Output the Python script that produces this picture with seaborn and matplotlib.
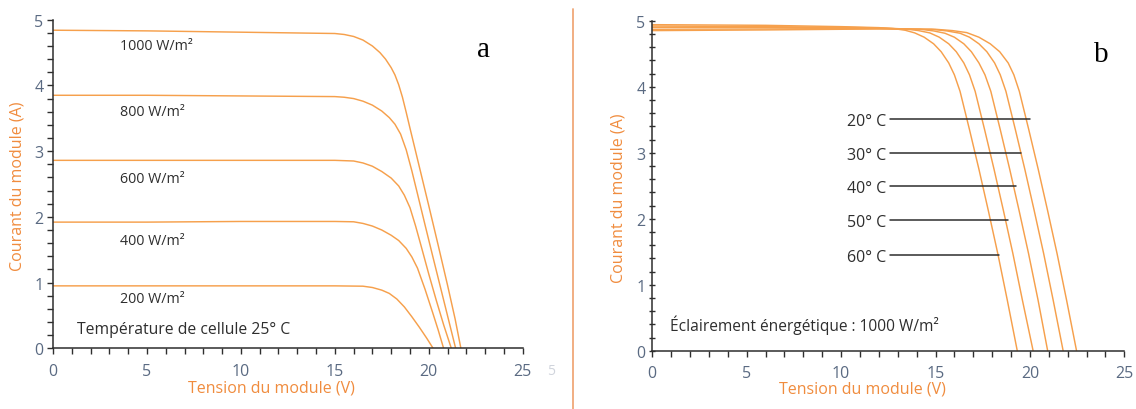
import numpy as np
import pandas as pd
import matplotlib
matplotlib.use("Agg")
import matplotlib.pyplot as plt
from matplotlib.lines import Line2D
from matplotlib.ticker import MultipleLocator
import seaborn as sns

# ---------------- Data: panel a (irradiance, cell temperature 25 °C) ----------------
irr_labels = ["1000 W/m²", "800 W/m²", "600 W/m²", "400 W/m²", "200 W/m²"]
v_1000 = [0, 5, 10, 15, 15.5, 16, 16.5, 17, 17.4, 17.7, 18.0, 18.2, 18.4, 18.6, 18.8, 19.0,
          19.5, 20, 20.5, 21, 21.4, 21.71]
i_1000 = [4.84, 4.83, 4.81, 4.79, 4.775, 4.745, 4.69, 4.60, 4.50, 4.40, 4.27, 4.16, 4.01, 3.82,
          3.59, 3.35, 2.76, 2.17, 1.57, 0.96, 0.45, 0]
v_800 = [0, 5, 10, 15, 15.5, 16, 16.5, 17, 17.5, 17.9, 18.2, 18.5, 18.8, 19.1, 19.4, 19.8,
         20.23, 20.7, 21.1, 21.43]
i_800 = [3.85, 3.85, 3.84, 3.83, 3.82, 3.80, 3.76, 3.70, 3.61, 3.51, 3.41, 3.26, 3.02, 2.70,
         2.35, 1.88, 1.38, 0.84, 0.38, 0]
v_600 = [0, 5, 10, 15, 16, 16.5, 17, 17.5, 18, 18.4, 18.7, 19.0, 19.3, 19.6, 20.0, 20.4,
         20.8, 21.2]
i_600 = [2.86, 2.86, 2.86, 2.86, 2.85, 2.82, 2.77, 2.69, 2.59, 2.47, 2.33, 2.14, 1.86, 1.55,
         1.13, 0.73, 0.35, 0]
v_400 = [0, 5, 10, 15, 16, 16.5, 17, 17.5, 18, 18.4, 18.8, 19.1, 19.4, 19.8, 20.2, 20.5, 20.79]
i_400 = [1.92, 1.92, 1.93, 1.93, 1.925, 1.90, 1.86, 1.80, 1.72, 1.64, 1.52, 1.39, 1.22, 0.90,
         0.55, 0.28, 0]
v_200 = [0, 5, 10, 15, 16.5, 17, 17.5, 17.9, 18.3, 18.7, 19.1, 19.5, 19.9, 20.23]
i_200 = [0.95, 0.95, 0.95, 0.95, 0.945, 0.925, 0.885, 0.835, 0.75, 0.63, 0.48, 0.32, 0.15, 0]
irr_label_y = [4.6, 3.61, 2.59, 1.64, 0.76]

# ---------------- Data: panel b (temperature, irradiance 1000 W/m²) ----------------
temp_labels = ["20° C", "30° C", "40° C", "50° C", "60° C"]
v_20 = [0, 6, 10, 12, 15.0, 15.9, 16.65, 17.3, 17.9, 18.4, 18.85, 19.15, 19.44, 19.94, 20.44,
        20.94, 21.44, 21.94, 22.47]
i_20 = [4.85, 4.86, 4.87, 4.875, 4.87, 4.85, 4.82, 4.75, 4.65, 4.53, 4.36, 4.18, 3.93, 3.35,
        2.75, 2.12, 1.47, 0.77, 0]
v_30 = [0, 6, 10, 12, 14.8, 15.6, 16.3, 16.8, 17.3, 17.72, 18.13, 18.43, 18.73, 19.23, 19.73,
        20.23, 20.73, 21.23, 21.76]
i_30 = [4.87, 4.875, 4.88, 4.88, 4.87, 4.845, 4.81, 4.75, 4.65, 4.53, 4.36, 4.18, 3.93, 3.35,
        2.75, 2.12, 1.47, 0.77, 0]
v_40 = [0, 6, 10, 12, 14.2, 14.9, 15.5, 16.0, 16.5, 16.9, 17.3, 17.62, 17.93, 18.43, 18.93,
        19.43, 19.93, 20.43, 20.94]
i_40 = [4.90, 4.90, 4.89, 4.885, 4.87, 4.845, 4.81, 4.75, 4.65, 4.53, 4.36, 4.18, 3.93, 3.35,
        2.75, 2.12, 1.47, 0.77, 0]
v_50 = [0, 6, 10, 12, 13.4, 14.1, 14.7, 15.2, 15.7, 16.1, 16.5, 16.8, 17.1, 17.6, 18.1, 18.6,
        19.1, 19.6, 20.17]
i_50 = [4.92, 4.91, 4.90, 4.89, 4.875, 4.85, 4.815, 4.75, 4.65, 4.53, 4.36, 4.18, 3.93, 3.35,
        2.75, 2.12, 1.47, 0.77, 0]
v_60 = [0, 6, 10, 12, 12.8, 13.4, 13.9, 14.4, 14.9, 15.3, 15.7, 16.0, 16.3, 16.8, 17.3, 17.8,
        18.3, 18.8, 19.33]
i_60 = [4.94, 4.93, 4.91, 4.895, 4.88, 4.855, 4.815, 4.75, 4.65, 4.53, 4.36, 4.18, 3.93, 3.35,
        2.75, 2.12, 1.47, 0.77, 0]
temp_label_y = [3.48, 2.97, 2.47, 1.95, 1.42]
temp_line_end = [20.0, 19.52, 19.26, 18.84, 18.36]

x_ticks = [0, 5, 10, 15, 20, 25]
y_ticks = [0, 1, 2, 3, 4, 5]

# ---------------- Build tables ----------------
irr_v = [v_1000, v_800, v_600, v_400, v_200]
irr_i = [i_1000, i_800, i_600, i_400, i_200]
df_a = pd.concat([pd.DataFrame({"V": v, "I": i, "curve": lab})
                  for v, i, lab in zip(irr_v, irr_i, irr_labels)], ignore_index=True)
tmp_v = [v_20, v_30, v_40, v_50, v_60]
tmp_i = [i_20, i_30, i_40, i_50, i_60]
df_b = pd.concat([pd.DataFrame({"V": v, "I": i, "curve": lab})
                  for v, i, lab in zip(tmp_v, tmp_i, temp_labels)], ignore_index=True)

# ---------------- Style ----------------
sns.set_theme(style="white")
plt.rcParams["font.family"] = ["Open Sans", "DejaVu Sans"]

ORANGE_LINE = "#F6A04C"
ORANGE_TXT = "#F08C3E"
TICK_TXT = "#5A6A82"
DARK = "#2E2E2E"

fig = plt.figure(figsize=(11.36, 4.10), dpi=100)
ax_a = fig.add_axes([53 / 1136, (410 - 349.3) / 410, 469.7 / 1136, 328.6 / 410])
ax_b = fig.add_axes([652.3 / 1136, (410 - 351.7) / 410, 472 / 1136, 330 / 410])

pal_a = {lab: ORANGE_LINE for lab in irr_labels}
pal_b = {lab: ORANGE_LINE for lab in temp_labels}
sns.lineplot(data=df_a, x="V", y="I", hue="curve", palette=pal_a, sort=False,
             estimator=None, units="curve", legend=False, linewidth=1.05, ax=ax_a)
sns.lineplot(data=df_b, x="V", y="I", hue="curve", palette=pal_b, sort=False,
             estimator=None, units="curve", legend=False, linewidth=1.05, ax=ax_b)

for ax, ylab_pos, xlab_pos, ydir in [
    (ax_a, (-0.058, 0.497), (0.466, -0.096), "out"),
    (ax_b, (-0.055, 0.466), (0.446, -0.091), "inout"),
]:
    ax.set_xlim(0, 25)
    ax.set_ylim(0, 5)
    ax.set_xticks(x_ticks)
    ax.set_yticks(y_ticks)
    ax.xaxis.set_minor_locator(MultipleLocator(1))
    ax.yaxis.set_minor_locator(MultipleLocator(0.2))
    for s in ["top", "right"]:
        ax.spines[s].set_visible(False)
    for s in ["left", "bottom"]:
        ax.spines[s].set_color(DARK)
        ax.spines[s].set_linewidth(1.1)
    ax.tick_params(axis="x", which="both", direction="out", length=4.5, width=1.0,
                   color=DARK, labelcolor=TICK_TXT, labelsize=11.5, pad=6, bottom=True)
    ax.tick_params(axis="y", which="both", direction=ydir, length=4, width=1.0,
                   color=DARK, labelcolor=TICK_TXT, labelsize=11.5, pad=3, left=True)
    ax.set_xlabel("Tension du module (V)", color=ORANGE_TXT, fontsize=11.5)
    ax.set_ylabel("Courant du module (A)", color=ORANGE_TXT, fontsize=11.5)
    ax.xaxis.set_label_coords(*xlab_pos)
    ax.yaxis.set_label_coords(*ylab_pos)
    ax.grid(False)
    ax.set_facecolor("white")

# Panel a annotations
for lab, y in zip(irr_labels, irr_label_y):
    ax_a.text(3.55, y, lab, color=DARK, fontsize=10.3, va="center", ha="left")
ax_a.text(1.3, 0.29, "Température de cellule 25° C", color=DARK, fontsize=11.3,
          va="center", ha="left")
ax_a.text(22.9, 4.55, "a", color="black", fontsize=21, family="Liberation Serif",
          va="center", ha="center")

# Panel b annotations
for lab, y, xe in zip(temp_labels, temp_label_y, temp_line_end):
    ax_b.text(12.4, y, lab, color=DARK, fontsize=11.5, va="center", ha="right")
    ax_b.plot([12.6, xe], [y + 0.03, y + 0.03], color=DARK, linewidth=1.1)
ax_b.text(0.95, 0.40, "Éclairement énergétique : 1000 W/m²", color=DARK, fontsize=11.2,
          va="center", ha="left")
ax_b.text(23.8, 4.5, "b", color="black", fontsize=21, family="Liberation Serif",
          va="center", ha="center")

# Separator line between panels and faint stray label
fig.add_artist(Line2D([573 / 1136, 573 / 1136], [0, 1 - 10 / 410], color="#F0A878",
                      linewidth=1.3, transform=fig.transFigure))
fig.text(551 / 1136, 1 - 372 / 410, "5", color="#D0D4DC", fontsize=10, ha="center", va="center")

fig.savefig("out.png", dpi=100, facecolor="white")
